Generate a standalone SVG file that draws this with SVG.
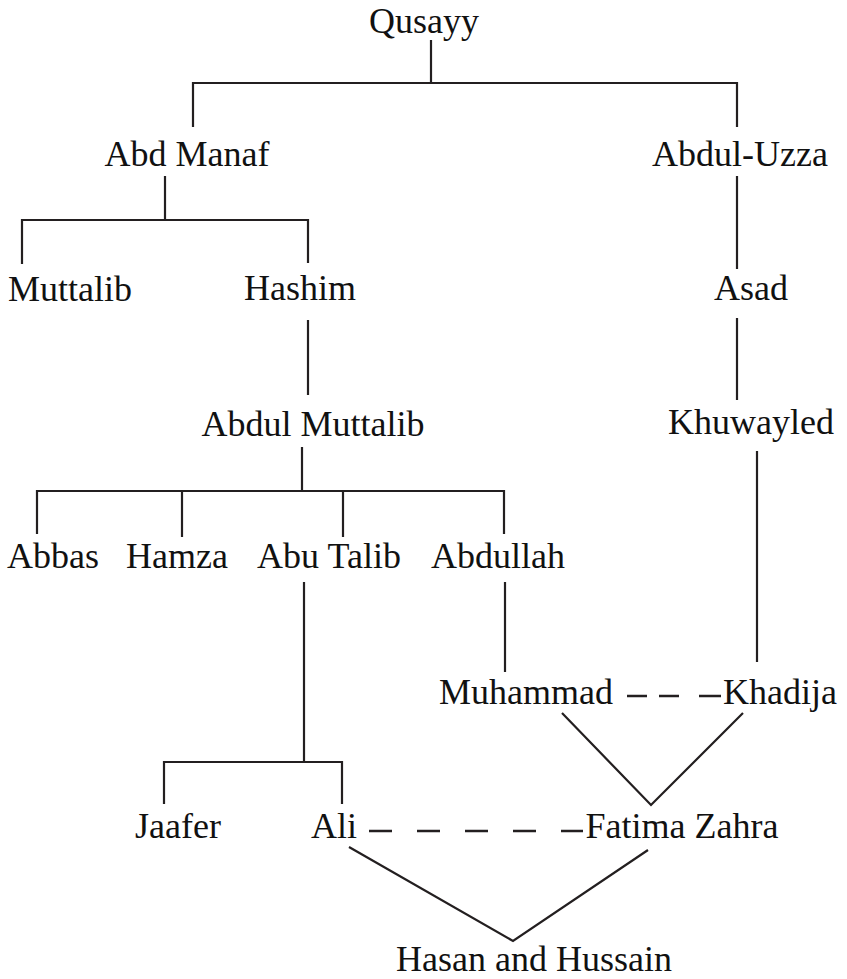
<svg xmlns="http://www.w3.org/2000/svg" width="847" height="979" viewBox="0 0 847 979">
<style>
text{font-family:"Liberation Serif","Times New Roman",serif;font-size:36px;fill:#111;text-anchor:middle}
.c{fill:none;stroke:#231f20;stroke-width:2.2}
.d{fill:none;stroke:#231f20;stroke-width:2.4}
</style>
<rect width="847" height="979" fill="#fff"/>
<g id="connectors">
<path class="c" d="M431,40 V83"/>
<path class="c" d="M193,127 V83 H737 V127"/>
<path class="c" d="M165,176 V220"/>
<path class="c" d="M22,264 V220 H308 V263"/>
<path class="c" d="M737,176 V269"/>
<path class="c" d="M308,320 V395"/>
<path class="c" d="M737,318 V400"/>
<path class="c" d="M302,447 V491"/>
<path class="c" d="M37,534 V491 H504 V534"/>
<path class="c" d="M182,491 V537"/>
<path class="c" d="M343,491 V537"/>
<path class="c" d="M757,451 V662"/>
<path class="c" d="M304,582 V762"/>
<path class="c" d="M164,804 V762 H342 V804"/>
<path class="c" d="M505,582 V672"/>
<path class="c" d="M562,713 L651,805 L743,713"/>
<path class="c" d="M349,847 L513,941 L648,850"/>
<path class="d" d="M627,696 H647 M659,696 H679 M699,696 H721"/>
<path class="d" d="M369,831 H583" stroke-dasharray="23 25"/>
</g>
<g id="qusayy"><text x="424" y="33">Qusayy</text></g>
<g id="abd-manaf"><text x="187" y="166">Abd Manaf</text></g>
<g id="abdul-uzza"><text x="740" y="166">Abdul-Uzza</text></g>
<g id="muttalib"><text x="70" y="301">Muttalib</text></g>
<g id="hashim"><text x="300" y="300">Hashim</text></g>
<g id="asad"><text x="751" y="300">Asad</text></g>
<g id="abdul-muttalib"><text x="313" y="436">Abdul Muttalib</text></g>
<g id="khuwayled"><text x="751" y="434">Khuwayled</text></g>
<g id="abbas"><text x="53" y="568">Abbas</text></g>
<g id="hamza"><text x="177" y="568">Hamza</text></g>
<g id="abu-talib"><text x="329" y="568">Abu Talib</text></g>
<g id="abdullah"><text x="498" y="568">Abdullah</text></g>
<g id="muhammad"><text x="526" y="704">Muhammad</text></g>
<g id="khadija"><text x="780" y="704">Khadija</text></g>
<g id="jaafer"><text x="178" y="838">Jaafer</text></g>
<g id="ali"><text x="334" y="838">Ali</text></g>
<g id="fatima-zahra"><text x="682" y="838">Fatima Zahra</text></g>
<g id="hasan-hussain"><text x="534" y="971">Hasan and Hussain</text></g>
</svg>
